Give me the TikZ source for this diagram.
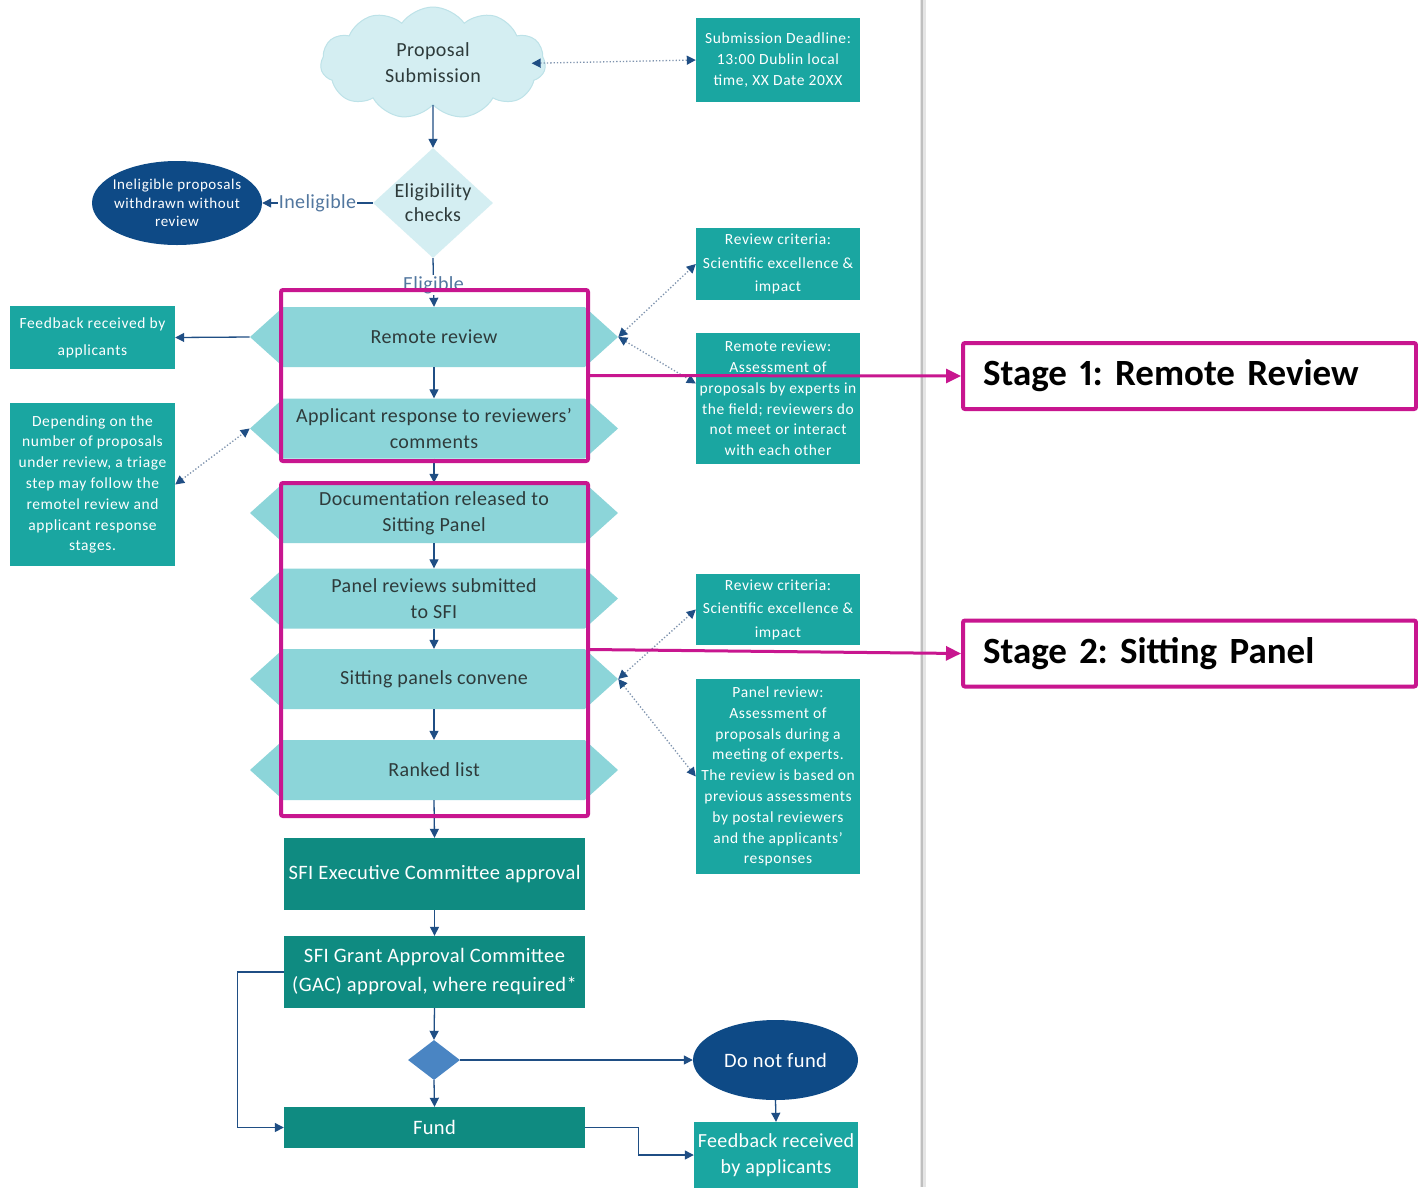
\documentclass[tikz,border=0pt]{standalone}
\usepackage{fontspec}
\setmainfont{Carlito}
\newfontfamily\carlsp{Carlito}[LetterSpace=4,Ligatures=TeX]
\newfontfamily\carlhx{Carlito}[LetterSpace=2,Ligatures=TeX]
\newfontfamily\carlst{Carlito}[Numbers=Proportional]
\usetikzlibrary{shapes.geometric,shapes.symbols,arrows.meta,calc}
\definecolor{lightcy}{HTML}{D4EEF2}
\definecolor{cloudedge}{HTML}{BDE2E8}
\definecolor{hexfill}{HTML}{8CD5D9}
\definecolor{tealA}{HTML}{1AA6A1}
\definecolor{tealB}{HTML}{0F8B81}
\definecolor{navy}{HTML}{0E4A86}
\definecolor{decblue}{HTML}{4A85C3}
\definecolor{arrblue}{HTML}{1F4E84}
\definecolor{dotblue}{HTML}{7E93AE}
\definecolor{pinkc}{HTML}{C8168F}
\definecolor{labblue}{HTML}{52779F}
\definecolor{txtdark}{HTML}{2E3B3B}
\frenchspacing
\begin{document}
\begin{tikzpicture}[x=1pt,y=-1pt,
  arr/.style={draw=arrblue, line width=1.3pt, -{Triangle[length=9pt,width=9pt]}},
  dotarr/.style={draw=dotblue, line width=1.3pt, dotted, {Triangle[length=9pt,width=9pt,color=arrblue]}-{Triangle[length=9pt,width=9pt,color=arrblue]}},
  hexa/.style={signal, signal to=east and west, signal pointer angle=84, fill=hexfill, draw=none,
    minimum width=368pt, minimum height=60pt, inner sep=0pt, text=txtdark, align=center,
    font=\carlhx\fontsize{20}{26}\selectfont},
  tealbox/.style={rectangle, fill=tealA, text=white, align=center, inner sep=0pt,
    font=\carlsp\fontsize{15.5}{20.8}\selectfont},
  darkbox/.style={rectangle, fill=tealB, text=white, align=center, inner sep=2pt,
    minimum width=301pt, font=\carlhx\fontsize{20.5}{29}\selectfont},
  pinkbox/.style={rectangle, draw=pinkc, line width=4pt, rounded corners=2pt, fill=none},
  stagebox/.style={rectangle, draw=pinkc, line width=4pt, rounded corners=2pt, fill=white,
    minimum width=453pt, minimum height=66pt, text width=413pt, align=left, inner sep=0pt,
    font=\carlst\fontsize{37}{40}\selectfont\bfseries},
  pinkarr/.style={draw=pinkc, line width=3pt, -{Triangle[length=15pt,width=14pt]}},
  lab/.style={fill=white, text=labblue, inner sep=1pt, font=\carlhx\fontsize{20}{22}\selectfont}
]
\useasboundingbox (0,0) rectangle (1418,1187);
\fill[white] (0,0) rectangle (1418,1187);
% page divider
\draw[draw=black!10, line width=6pt] (923,0) -- (923,1187);
\draw[draw=black!25, line width=1.5pt] (922,0) -- (922,1187);

% top
\node[cloud, cloud puffs=11, cloud puff arc=110, aspect=2, fill=lightcy, draw=cloudedge, line width=1pt,
  minimum width=225pt, minimum height=112pt, inner sep=0pt] (cloud) at (433,63) {};
\node[text=txtdark, align=center, font=\carlhx\fontsize{20}{26}\selectfont] (cloudt) at (cloud) {Proposal\\Submission};
\node[tealbox, minimum width=164pt, minimum height=84pt] (deadline) at (778,60)
  {Submission Deadline:\\13:00 Dublin local\\time, XX Date 20XX};
\node[diamond, fill=lightcy, minimum width=120pt, minimum height=110pt, inner sep=0pt] (elig) at (433,203) {};
\node[text=txtdark, align=center, font=\carlhx\fontsize{20}{24}\selectfont] (eligt) at (elig) {Eligibility\\checks};
\node[ellipse, fill=navy, minimum width=170pt, minimum height=84pt, inner sep=0pt] (inel) at (177,203) {};
\node[text=white, align=center, font=\carlsp\fontsize{15}{18.5}\selectfont] (inelt) at (inel) {Ineligible proposals\\withdrawn without\\review};

% hexagons
\node[hexa] (rr) at (434,337) {Remote review};
\node[hexa] (ar) at (434,428.5) {Applicant response to reviewers’\\comments};
\node[hexa] (doc) at (434,513) {Documentation released to\\Sitting Panel};
\node[hexa] (prs) at (434,598.5) {Panel reviews submitted\\to SFI};
\node[hexa] (spc) at (434,679) {Sitting panels convene};
\node[hexa] (rl) at (434,770) {Ranked list};

% left boxes
\node[tealbox, minimum width=165pt, minimum height=63pt, font=\carlsp\fontsize{15.5}{27}\selectfont] (fb1) at (92.5,337.5)
  {Feedback received by\\applicants};
\node[tealbox, minimum width=165pt, minimum height=163pt] (dep) at (92.5,484.5)
  {Depending on the\\number of proposals\\under review, a triage\\step may follow the\\remotel review and\\applicant response\\stages.};

% right boxes
\node[tealbox, minimum width=164pt, minimum height=72pt, font=\carlsp\fontsize{15.5}{23.5}\selectfont] (crit1) at (778,264)
  {Review criteria:\\Scientific excellence \&\\impact};
\node[tealbox, minimum width=164pt, minimum height=131pt] (rrbox) at (778,398.5)
  {Remote review:\\Assessment of\\proposals by experts in\\the field; reviewers do\\not meet or interact\\with each other};
\node[tealbox, minimum width=164pt, minimum height=71pt, font=\carlsp\fontsize{15.5}{23.5}\selectfont] (crit2) at (778,609.5)
  {Review criteria:\\Scientific excellence \&\\impact};
\node[tealbox, minimum width=164pt, minimum height=195pt] (pnbox) at (778,776.5)
  {Panel review:\\Assessment of\\proposals during a\\meeting of experts.\\The review is based on\\previous assessments\\by postal reviewers\\and the applicants’\\responses};

% bottom
\node[darkbox, minimum height=72pt] (exec) at (434.5,874) {SFI Executive Committee approval};
\node[darkbox, minimum height=72pt] (gac) at (434.5,972) {SFI Grant Approval Committee\\(GAC) approval, where required*};
\node[diamond, fill=decblue, minimum width=52pt, minimum height=40pt, inner sep=0pt] (dec) at (434,1060) {};
\node[ellipse, fill=navy, text=white, minimum width=165pt, minimum height=80pt, inner sep=0pt,
  font=\carlhx\fontsize{20.5}{24}\selectfont] (dnf) at (775.5,1060) {Do not fund};
\node[darkbox, minimum height=41pt] (fund) at (434.5,1127.5) {Fund};
\node[tealbox, minimum width=164pt, minimum height=66pt, font=\carlhx\fontsize{20}{26}\selectfont] (fb2) at (776,1155)
  {Feedback received\\by applicants};

% connectors
\draw[dotarr, shorten <=-14pt] (cloud.east) -- (deadline.west);
\draw[arr] (cloud.south) -- (elig.north);
\draw[arr] (elig.west) -- node[lab] (inellab) {Ineligible} (inel.east);
\draw[arr] (elig.south) -- node[lab, pos=0.55] (eliglab) {Eligible} (rr.north);
\draw[arr] (rr.south) -- (ar.north);
\draw[arr] (ar.south) -- (doc.north);
\draw[arr] (doc.south) -- (prs.north);
\draw[arr] (prs.south) -- (spc.north);
\draw[arr] (spc.south) -- (rl.north);
\draw[arr] (rl.south) -- (exec.north);
\draw[arr] (exec.south) -- (gac.north);
\draw[arr] (gac.south) -- (dec.north);
\draw[arr] (dec.east) -- (dnf.west);
\draw[arr] (dec.south) -- (fund.north);
\draw[arr] (gac.west) -- ++(-46,0) |- (fund.west);
\draw[arr] (fund.east) -- ++(53,0) |- (fb2.west);
\draw[arr] (dnf.south) -- (fb2.north);
\draw[arr] (rr.west) -- (fb1.east);
\draw[dotarr] (dep.east) -- (ar.west);
\draw[dotarr] (rr.east) -- (crit1.west);
\draw[dotarr] (rr.east) -- ([yshift=15pt]rrbox.west);
\draw[dotarr] (spc.east) -- (crit2.west);
\draw[dotarr] (spc.east) -- (pnbox.west);

% highlight boxes
\node[pinkbox, minimum width=307pt, minimum height=171pt] (box1) at (434.5,375.5) {};
\node[pinkbox, minimum width=307pt, minimum height=333pt] (box2) at (434.5,649.5) {};
\node[stagebox] (stage1) at (1189.5,376) {Stage 1: Remote Review};
\node[stagebox] (stage2) at (1189.5,653.5) {Stage 2: Sitting Panel};
\draw[pinkarr] (box1.east) -- (stage1.west);
\draw[pinkarr] (box2.east) -- (stage2.west);
\end{tikzpicture}
\end{document}
